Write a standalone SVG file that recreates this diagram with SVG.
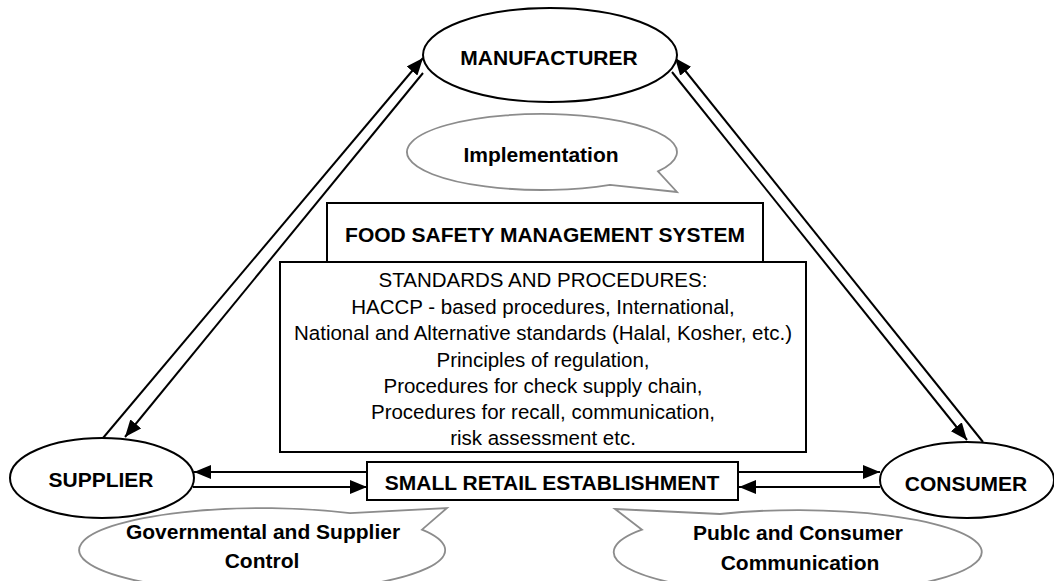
<svg xmlns="http://www.w3.org/2000/svg" width="1054" height="581" viewBox="0 0 1054 581">
<style>
.node{fill:#fff;stroke:#000;stroke-width:2}
.bub{fill:#fff;stroke:#8c8c8c;stroke-width:1.8}
.lbl{font-family:"Liberation Sans",Arial,sans-serif;font-weight:bold;font-size:21px;fill:#000;text-anchor:middle}
.txt{font-family:"Liberation Sans",Arial,sans-serif;font-size:20.5px;fill:#000;text-anchor:middle}
.con{stroke:#000;stroke-width:2;fill:none;marker-end:url(#ah)}
</style>
<defs>
<marker id="ah" markerUnits="userSpaceOnUse" markerWidth="18" markerHeight="14" viewBox="0 0 18 14" refX="17" refY="7" orient="auto">
<path d="M0,0 L17,7 L0,14 Z" fill="#000"/>
</marker>
</defs>
<rect width="1054" height="581" fill="#fff"/>
<g id="connectors">
<line class="con" x1="103" y1="438" x2="423" y2="58"/>
<line class="con" x1="423" y1="73" x2="125" y2="437"/>
<line class="con" x1="983" y1="442" x2="675" y2="58"/>
<line class="con" x1="672" y1="72" x2="967" y2="440"/>
<line class="con" x1="367" y1="472" x2="194" y2="472"/>
<line class="con" x1="193" y1="487" x2="367" y2="487"/>
<line class="con" x1="738" y1="472" x2="880" y2="472"/>
<line class="con" x1="880" y1="487" x2="739" y2="487"/>
</g>
<g id="manufacturer">
<ellipse class="node" cx="550" cy="55" rx="127" ry="47"/>
<text class="lbl" x="549" y="65">MANUFACTURER</text>
</g>
<g id="implementation">
<path class="bub" d="M658,171.4 L677,192 L610,184.8 A135,38 0 1 1 658,171.4 Z"/>
<text class="lbl" x="541" y="162">Implementation</text>
</g>
<g id="fsms">
<rect class="node" x="327" y="203" width="436" height="59"/>
<text class="lbl" x="545" y="242">FOOD SAFETY MANAGEMENT SYSTEM</text>
</g>
<g id="standards">
<rect class="node" x="280" y="262" width="526" height="190"/>
<text class="txt" x="543" y="287">STANDARDS AND PROCEDURES:</text>
<text class="txt" x="543" y="313.5">HACCP - based procedures, International,</text>
<text class="txt" x="543" y="340">National and Alternative standards (Halal, Kosher, etc.)</text>
<text class="txt" x="543" y="366.5">Principles of regulation,</text>
<text class="txt" x="543" y="392.5">Procedures for check supply chain,</text>
<text class="txt" x="543" y="419">Procedures for recall, communication,</text>
<text class="txt" x="543" y="445">risk assessment etc.</text>
</g>
<g id="supplier">
<ellipse class="node" cx="102" cy="478" rx="92" ry="40"/>
<text class="lbl" x="101" y="487">SUPPLIER</text>
</g>
<g id="retail">
<rect class="node" x="367" y="462" width="371" height="38"/>
<text class="lbl" x="552" y="490">SMALL RETAIL ESTABLISHMENT</text>
</g>
<g id="consumer">
<ellipse class="node" cx="967" cy="480" rx="87" ry="38"/>
<text class="lbl" x="966" y="491">CONSUMER</text>
</g>
<g id="governmental">
<path class="bub" d="M350,513.2 L447,508 L422,529.6 A183,42 0 1 1 350,513.2 Z"/>
<text class="lbl" x="263" y="539">Governmental and Supplier</text>
<text class="lbl" x="262" y="568">Control</text>
</g>
<g id="public">
<path class="bub" d="M615,509 L720,514 A184,42 0 1 1 642,529.7 Z"/>
<text class="lbl" x="798" y="540">Publc and Consumer</text>
<text class="lbl" x="800" y="570">Communication</text>
</g>
</svg>
